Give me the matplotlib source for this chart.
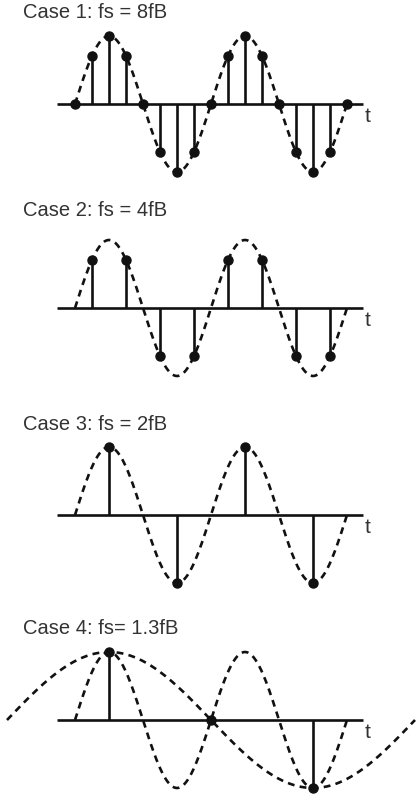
import numpy as np
import matplotlib.pyplot as plt

plt.rcParams['font.family'] = ['Liberation Sans', 'DejaVu Sans']

# sample instants (in periods of the bandlimit tone fB), one list per case
case1_t = [0, 0.125, 0.25, 0.375, 0.5, 0.625, 0.75, 0.875, 1.0,
           1.125, 1.25, 1.375, 1.5, 1.625, 1.75, 1.875, 2.0]
case2_t = [0.125, 0.375, 0.625, 0.875, 1.125, 1.375, 1.625, 1.875]
case3_t = [0.25, 0.75, 1.25, 1.75]
case4_t = [0.25, 1.0, 1.75]
sample_times = [case1_t, case2_t, case3_t, case4_t]

titles = ['Case 1: fs = 8fB', 'Case 2: fs = 4fB',
          'Case 3: fs = 2fB', 'Case 4: fs= 1.3fB']

# the alias that case 4 reconstructs (period in units of 1/fB)
alias_period = 3.0
alias_start = -0.5
alias_end = 2.5

# signal spans two periods; time axis drawn a little wider
t_sig = (0.0, 2.0)
t_axis = (-0.132, 2.118)

# layout in pixels
W, H = 416, 796
x0_px = 75        # where t = 0 sits
period_px = 136   # width of one period
amp_px = 68       # amplitude of the tone
axis_rows = [104, 308, 515, 720]
title_rows = [12, 210, 425, 629]

ink = '#111111'
text_col = '#333333'

fig = plt.figure(figsize=(W / 100, H / 100), dpi=100)

t_fine = np.linspace(t_sig[0], t_sig[1], 600)
tone = np.sin(2 * np.pi * t_fine)

for i, ts in enumerate(sample_times):
    ax = fig.add_axes([0, 0, 1, 1])
    ax.set_axis_off()
    r = axis_rows[i]
    ax.set_xlim(-x0_px / period_px, (W - x0_px) / period_px)
    ax.set_ylim(-(H - r) / amp_px, r / amp_px)

    # time axis
    ax.plot(t_axis, [0, 0], color=ink, lw=1.9, solid_capstyle='butt', zorder=2)
    ax.text(t_axis[1] + 0.012, -0.26, 't', color=text_col, fontsize=15,
            ha='left', va='baseline')

    # original tone, dashed
    line, = ax.plot(t_fine, tone, color=ink, lw=1.9, ls='--', zorder=1)
    line.set_dashes((2.6, 2.0))

    if i == 3:
        ta = np.linspace(alias_start, alias_end, 800)
        al, = ax.plot(ta, np.sin(2 * np.pi * (ta - alias_start) / alias_period),
                      color=ink, lw=1.9, ls='--', zorder=1)
        al.set_dashes((2.6, 2.0))

    # samples as stems
    ts = np.array(ts)
    vals = np.sin(2 * np.pi * ts)
    vals[np.abs(vals) < 1e-9] = 0.0
    ax.vlines(ts, 0, vals, color=ink, lw=1.9, zorder=3)
    ax.plot(ts, vals, 'o', color=ink, ms=6.5, zorder=4)

    fig.text(23 / W, 1 - title_rows[i] / H, titles[i], color=text_col,
             fontsize=14.5, ha='left', va='center')

fig.savefig('out.png', dpi=100)
